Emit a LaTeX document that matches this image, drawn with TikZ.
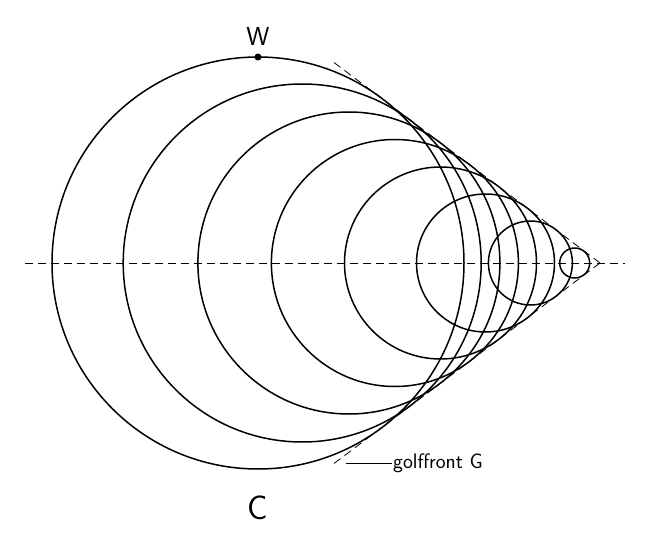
\documentclass[tikz,border=0pt]{standalone}
\begin{document}
\begin{tikzpicture}[x=1pt,y=-1pt,
  circ/.style={line width=1.5pt},
  dsh/.style={line width=0.8pt,dash pattern=on 8pt off 5pt},
  lab/.style={font=\sffamily}]
\useasboundingbox (0,0) rectangle (646,551);
\coordinate (apex) at (600,263);
\coordinate (hl) at (25,263);
\coordinate (hr) at (625,263);
\coordinate (tu) at (332,61);
\coordinate (td) at (332,465);
\draw[dsh] (hl) -- (hr);
\draw[dsh] (apex) -- (tu);
\draw[dsh] (apex) -- (td);
\foreach \c/\r in {258/206,302.2/179,348.9/151,394.9/123.5,440.5/96,485.5/69,530.4/42,574.7/15}
  \draw[circ] (\c,263) circle[radius=\r];
\fill (258,57) circle[radius=3.5];
\node[font=\sffamily\fontsize{26}{30}\selectfont] (w) at (258,36) {W};
\node[font=\sffamily\fontsize{34}{40}\selectfont] (c) at (258,508) {C};
\node[font=\sffamily\fontsize{21}{25}\selectfont,anchor=west,inner sep=1pt] (g) at (392,463) {golffront G};
\coordinate (gl) at (346,463);
\draw[line width=0.8pt] (gl) -- (g.west);
\end{tikzpicture}
\end{document}
